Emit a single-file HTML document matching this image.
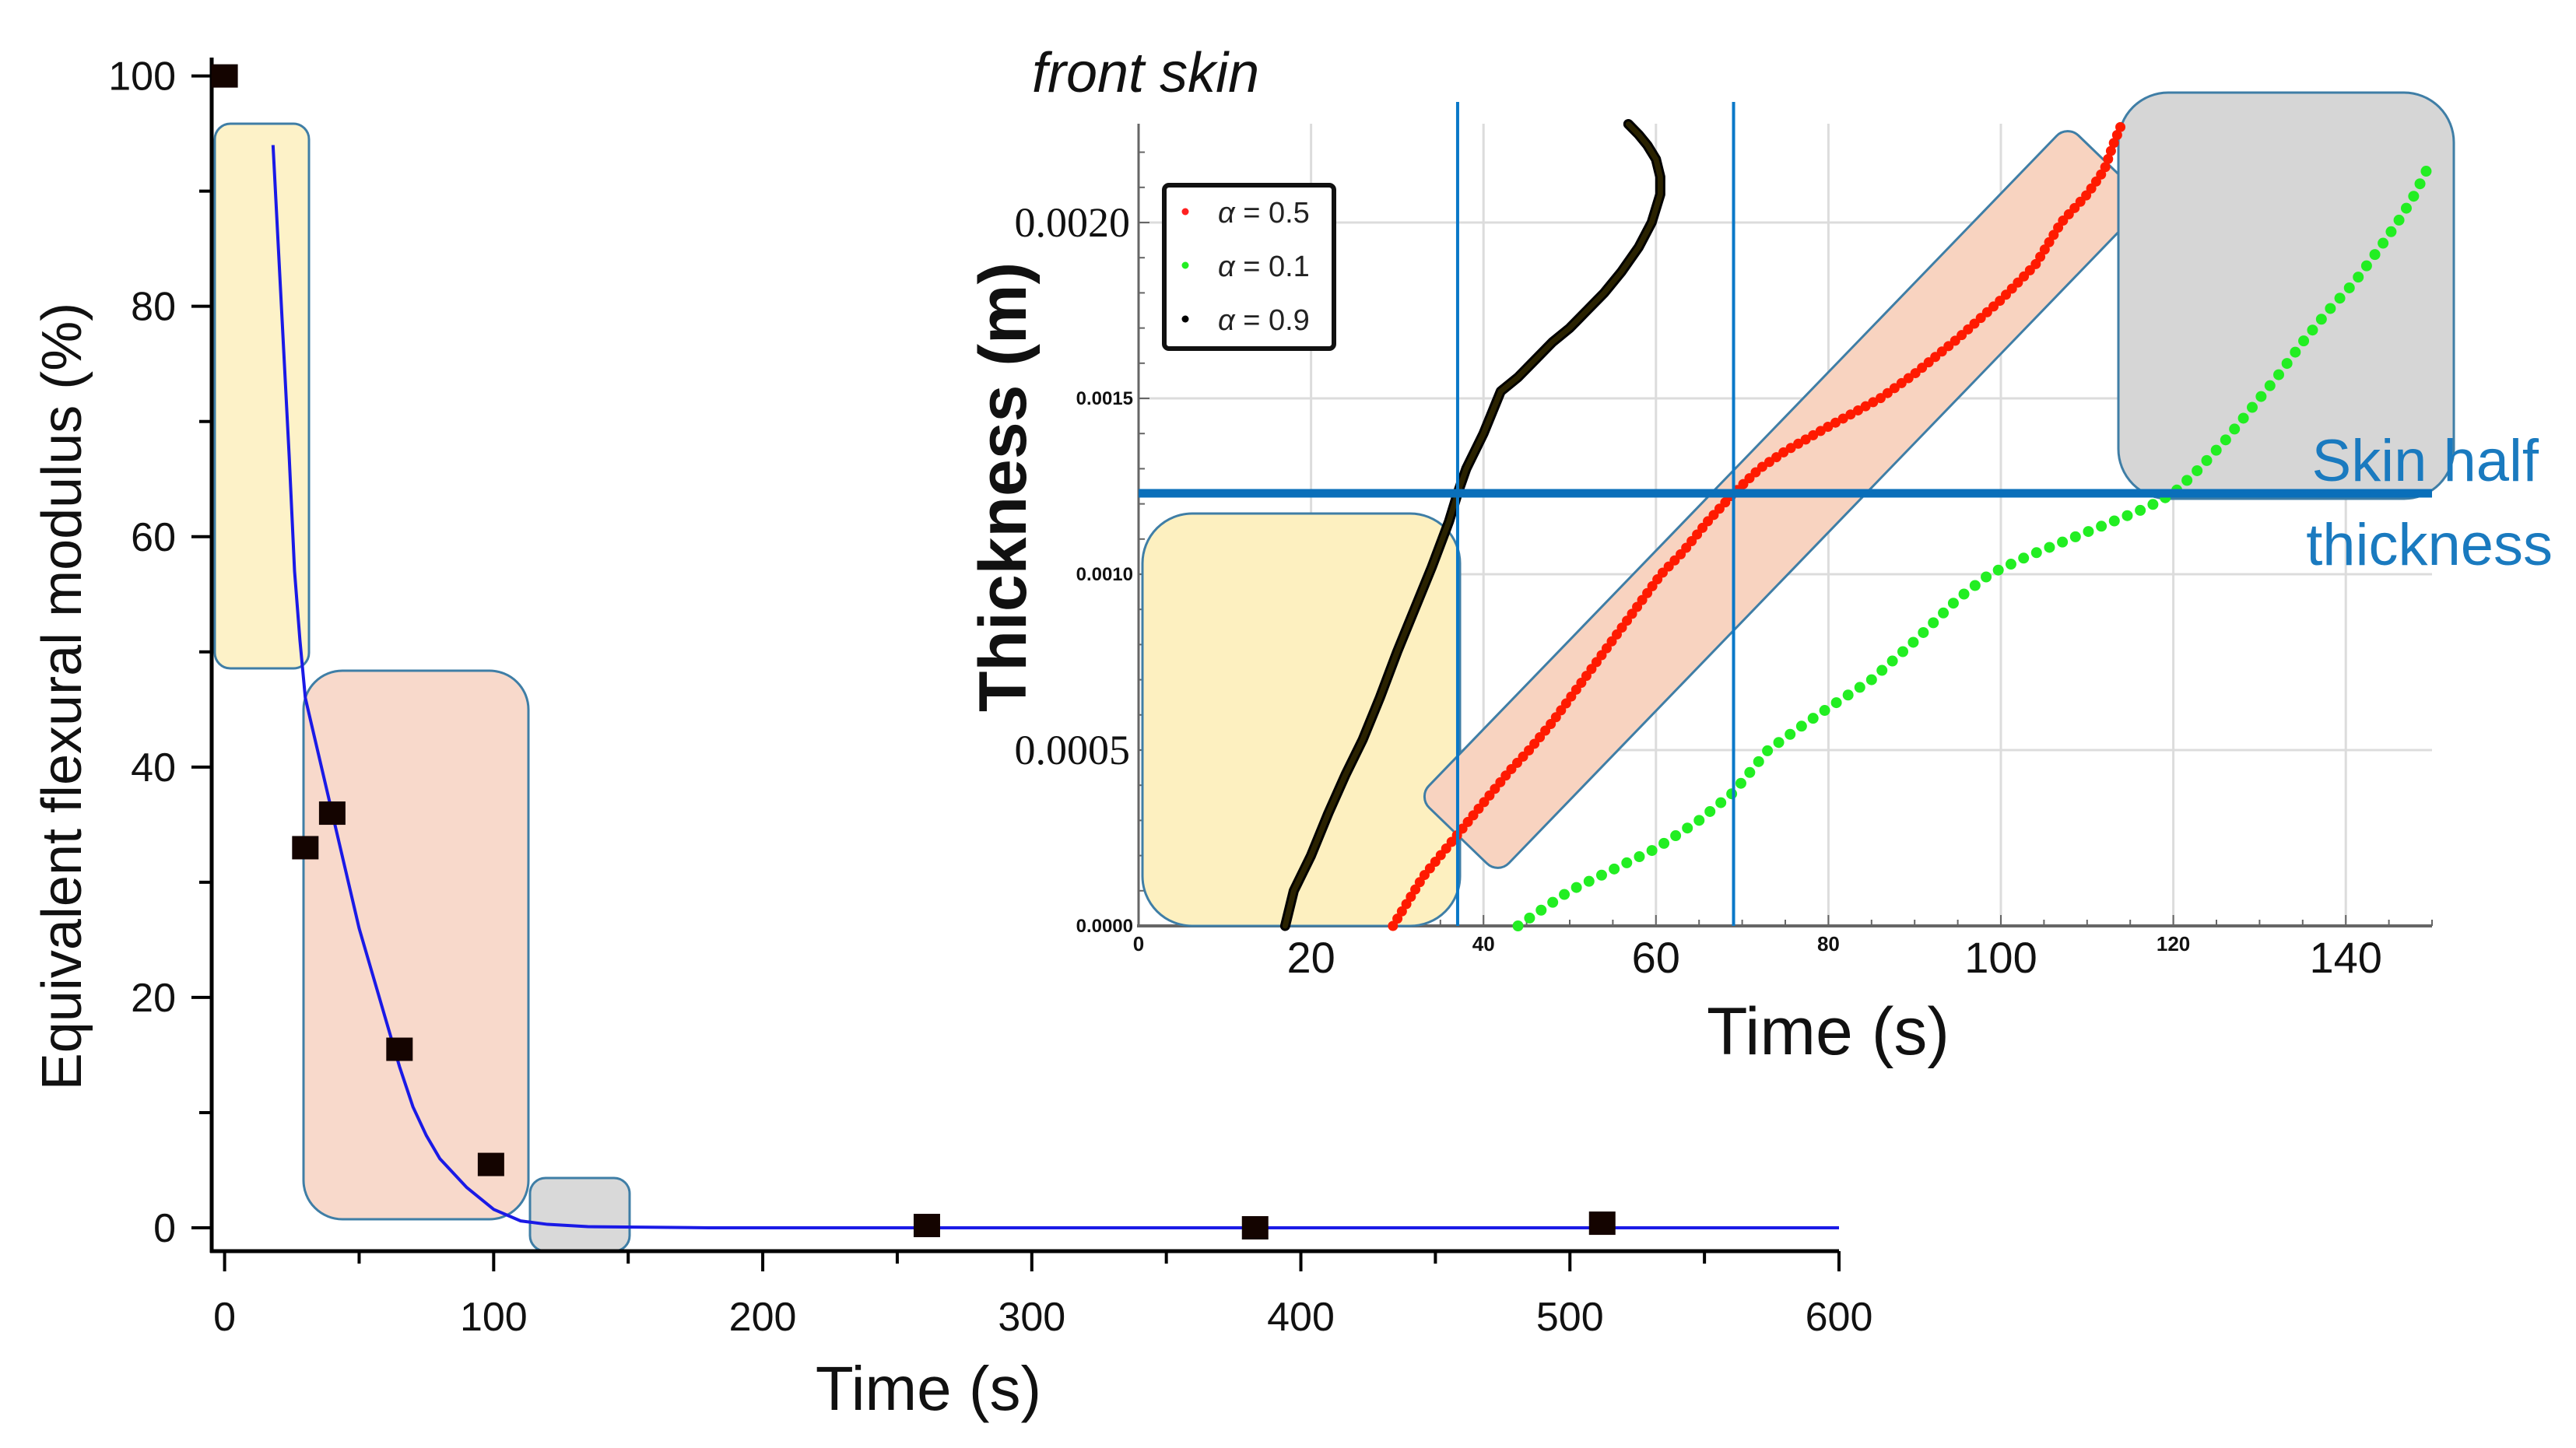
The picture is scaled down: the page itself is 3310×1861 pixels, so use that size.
<!DOCTYPE html>
<html><head><meta charset="utf-8"><style>
html,body{margin:0;padding:0;background:#fff;}
svg{display:block;}
</style></head><body>
<svg id="fig" width="3310" height="1861" viewBox="0 0 3310 1861" xmlns="http://www.w3.org/2000/svg">
<g id="main"></g>
<g id="inset"></g>
</svg>
<script>
// ---- main chart data ----
const mainXTicks = [0,100,200,300,400,500,600];
const mainYTicks = [0,20,40,60,80,100];
const expTime = [0,30,40,65,99,261,383,512];
const expModulus = [100,33,36,15.5,5.5,0.2,0,0.4];
const fitTime = [18,20,22,24,26,28,30,35,40,45,50,55,60,65,70,75,80,90,100,110,120,135,180,600];
const fitModulus = [94,85,76,67,57,51,46,41,36,31,26,22,18,14,10.5,8,6,3.5,1.6,0.6,0.3,0.1,0,0];
// ---- inset data ----
const insXTicks = [0,20,40,60,80,100,120,140];
const insYTicks = [0,0.0005,0.0010,0.0015,0.0020];
const insYLabels = ["0.0000","0.0005","0.0010","0.0015","0.0020"];
const blackT = [17,18,20,22,24,26,28,30,32,34,36,37,38,40,42,44,46,48,50,52,54,56,58,59.5,60.5,60.5,60,59,58,56.8];
const blackH = [0,0.0001,0.0002,0.00032,0.00043,0.00053,0.00065,0.00078,0.0009,0.00102,0.00115,0.00123,0.0013,0.0014,0.00152,0.00156,0.00161,0.00166,0.0017,0.00175,0.0018,0.00186,0.00193,0.002,0.00208,0.00213,0.00218,0.00222,0.00225,0.00228];
const redT = [29.5,31,33,35,37,40,43,45.3,48,51,54,57,60.6,63,66,69,72,75,80,86,90,95,100,104,107,110,112,113,114];
const redH = [0,0.00006,0.00014,0.0002,0.00026,0.00035,0.00044,0.0005,0.00058,0.00068,0.00078,0.00088,0.001,0.00106,0.00115,0.00123,0.0013,0.00135,0.00142,0.0015,0.00157,0.00167,0.00178,0.00188,0.002,0.00208,0.00215,0.00222,0.00228];
const greenT = [44,47,50,55,60,65,69,73,77,80,85,90,95,98.7,103,108,113,117,120,123,126,129,132,135,138,141,144,146,148,150];
const greenH = [0,0.00005,0.0001,0.00016,0.00022,0.0003,0.00038,0.0005,0.00057,0.00062,0.0007,0.00081,0.00093,0.001,0.00105,0.0011,0.00115,0.00119,0.00123,0.0013,0.00138,0.00147,0.00156,0.00166,0.00175,0.00183,0.00193,0.002,0.00208,0.00218];
const markerTimes = [37,69];
const halfThickness = 0.00123;

const NS="http://www.w3.org/2000/svg";
function mk(tag,attrs,parent,name,inter){const e=document.createElementNS(NS,tag);for(const k in attrs)e.setAttribute(k,attrs[k]);


parent.appendChild(e);return e;}
const main=document.getElementById('main'), ins=document.getElementById('inset');

// ---- main axes ----
const mx=t=>288.6+t*(2363-288.6)/600;
const my=v=>1578-v*(1578-97.6)/100;
const SANS='"Liberation Sans", sans-serif';
mk('rect',{x:276,y:159,width:121,height:700,rx:20,fill:'#fdf2c8',stroke:'#3f7ea6','stroke-width':3},main,'yellow-region-box',false);
mk('rect',{x:390,y:862,width:289,height:705,rx:50,fill:'#f8d9cb',stroke:'#3f7ea6','stroke-width':3},main,'salmon-region-box',false);
mk('rect',{x:681,y:1514,width:128,height:94,rx:20,fill:'#d9d9d9',stroke:'#3f7ea6','stroke-width':3},main,'gray-region-box',false);
mk('line',{x1:272,y1:74,x2:272,y2:1610,stroke:'#000','stroke-width':5},main,'y-axis-line',false);
mk('line',{x1:270,y1:1608,x2:mx(600),y2:1608,stroke:'#000','stroke-width':5},main,'x-axis-line',false);
for(let t=0;t<=600;t+=50){const major=t%100===0;
 mk('line',{x1:mx(t),y1:1608,x2:mx(t),y2:1608+(major?26:16),stroke:'#000','stroke-width':4},main,'x-tick',false);}
mainXTicks.forEach(t=>{const e=mk('text',{x:mx(t),y:1710,'font-size':52,'font-family':SANS,'text-anchor':'middle',fill:'#111'},main,'x-tick-label',false);e.textContent=t;});
for(let v=0;v<=100;v+=10){const major=v%20===0;
 mk('line',{x1:272-(major?26:16),y1:my(v),x2:272,y2:my(v),stroke:'#000','stroke-width':4},main,'y-tick',false);}
mainYTicks.forEach(v=>{const e=mk('text',{x:226,y:my(v)+18,'font-size':52,'font-family':SANS,'text-anchor':'end',fill:'#111'},main,'y-tick-label',false);e.textContent=v;});
let e=mk('text',{x:0,y:0,'font-size':72,'font-family':SANS,'text-anchor':'middle',fill:'#111',transform:'translate(104,895) rotate(-90)'},main,'y-axis-title',false);e.textContent='Equivalent flexural modulus (%)';
e=mk('text',{x:1193,y:1812,'font-size':80,'font-family':SANS,'text-anchor':'middle',fill:'#111'},main,'x-axis-title',false);e.textContent='Time (s)';
mk('polyline',{points:fitTime.map((t,i)=>mx(t)+','+my(fitModulus[i])).join(' '),fill:'none',stroke:'#1a1ae6','stroke-width':4},main,'fit-curve',false);
expTime.forEach((t,i)=>mk('rect',{x:mx(t)-17,y:my(expModulus[i])-15,width:34,height:30,fill:'#140400'},main,'data-point',false));

// ---- inset ----
const ix=t=>1463+t*11.08;
const iy=h=>1190-h*452000;
const NARROW='"Liberation Sans Narrow", "Liberation Sans", sans-serif';
insXTicks.forEach(t=>mk('line',{x1:ix(t),y1:159,x2:ix(t),y2:1190,stroke:'#dcdcdc','stroke-width':3},ins,'x-grid-line',false));
insYTicks.forEach(h=>mk('line',{x1:1463,y1:iy(h),x2:ix(150),y2:iy(h),stroke:'#dcdcdc','stroke-width':3},ins,'y-grid-line',false));
mk('line',{x1:1463,y1:159,x2:1463,y2:1192,stroke:'#666','stroke-width':3},ins,'inset-y-axis',false);
mk('line',{x1:1461,y1:1190,x2:ix(150),y2:1190,stroke:'#666','stroke-width':4},ins,'inset-x-axis',false);
for(let t=0;t<=150;t+=5)mk('line',{x1:ix(t),y1:1190,x2:ix(t),y2:1190-(t%20===0?14:8),stroke:'#666','stroke-width':2},ins,'inset-x-tick',false);
for(let h=0;h<=0.0022;h+=0.0001)mk('line',{x1:1463,y1:iy(h),x2:1463+(Math.round(h*10000)%5===0?14:8),y2:iy(h),stroke:'#666','stroke-width':2},ins,'inset-y-tick',false);
insXTicks.forEach((t,i)=>{const big=i%2===1;e=mk('text',{x:ix(t),y:big?1250:1222,'font-size':big?56:26,'font-weight':big?'normal':'bold','font-family':NARROW,'text-anchor':'middle',fill:'#111'},ins,'inset-x-tick-label',false);e.textContent=t;});
insYTicks.forEach((h,i)=>{const big=(i===1||i===4);e=mk('text',{x:big?1452:1456,y:iy(h)+(big?18:8),'font-size':big?54:24,'font-weight':big?'normal':'bold','font-family':big?'"Liberation Serif", serif':NARROW,'text-anchor':'end',fill:'#111'},ins,'inset-y-tick-label',false);e.textContent=insYLabels[i];});
// regions (under series)
mk('rect',{x:1468,y:660,width:408,height:530,rx:64,fill:'#fdf0c0',stroke:'#3f7ea6','stroke-width':3},ins,'inset-yellow-region',false);
mk('rect',{x:-600,y:-71,width:1201,height:143,rx:20,fill:'#f8d3c0',stroke:'#3f7ea6','stroke-width':3,transform:'translate(2290,642) rotate(-46)'},ins,'inset-salmon-region',false);
mk('rect',{x:2722,y:119,width:431,height:522,rx:64,fill:'#d6d6d6',stroke:'#3f7ea6','stroke-width':3},ins,'inset-gray-region',false);
// series
function series(T,H,color,name,w,dash){
 const a={points:T.map((t,i)=>ix(t)+','+iy(H[i])).join(' '),fill:'none',stroke:color,'stroke-width':w,'stroke-linecap':'round','stroke-linejoin':'round'};
 if(dash)a['stroke-dasharray']=dash;
 mk('polyline',a,ins,name+'-points',false);}
series(blackT,blackH,'#000','alpha-0.9',13,null);
series(blackT,blackH,'#2a2200','alpha-0.9-inner',7,null);
series(greenT,greenH,'#22ee22','alpha-0.1',14,'0 18');
series(redT,redH,'#ff1a00','alpha-0.5',13,'0 11');
markerTimes.forEach(t=>mk('line',{x1:ix(t),y1:131,x2:ix(t),y2:1190,stroke:'#0a78c8','stroke-width':4},ins,'marker-vertical-line',false));
mk('line',{x1:1463,y1:iy(halfThickness),x2:ix(150),y2:iy(halfThickness),stroke:'#0a6fba','stroke-width':11},ins,'skin-half-thickness-line',false);
// legend
mk('rect',{x:1496,y:238,width:218,height:210,rx:6,fill:'#fff',stroke:'#111','stroke-width':6},ins,'legend-box',false);
const legC=['#ff2020','#22ee22','#000'], legL=['0.5','0.1','0.9'];
legL.forEach((l,i)=>{const cy=272+i*69;
 mk('circle',{cx:1523,cy:cy,r:4.5,fill:legC[i]},ins,'legend-marker',false);
 const t=mk('text',{x:1565,y:cy+14,'font-size':38,'font-family':SANS,fill:'#222'},ins,'legend-entry',false);
 t.innerHTML='<tspan font-style="italic">α</tspan> = '+l;});
e=mk('text',{x:0,y:0,'font-size':86,'font-weight':'bold','font-family':SANS,'text-anchor':'middle',fill:'#111',transform:'translate(1318,626) rotate(-90)'},ins,'inset-y-axis-title',false);e.textContent='Thickness (m)';
e=mk('text',{x:2349,y:1355,'font-size':86,'font-family':NARROW,'text-anchor':'middle',fill:'#111'},ins,'inset-x-axis-title',false);e.textContent='Time (s)';
e=mk('text',{x:1326,y:118,'font-size':72,'font-style':'italic','font-family':SANS,fill:'#111'},ins,'inset-title',false);e.textContent='front skin';
e=mk('text',{x:3262,y:618,'font-size':76,'font-family':NARROW,'text-anchor':'end',fill:'#1a7abf'},ins,'skin-half-label',false);e.textContent='Skin half';
e=mk('text',{x:3280,y:726,'font-size':76,'font-family':NARROW,'text-anchor':'end',fill:'#1a7abf'},ins,'thickness-label',false);e.textContent='thickness';
</script>
</body></html>
